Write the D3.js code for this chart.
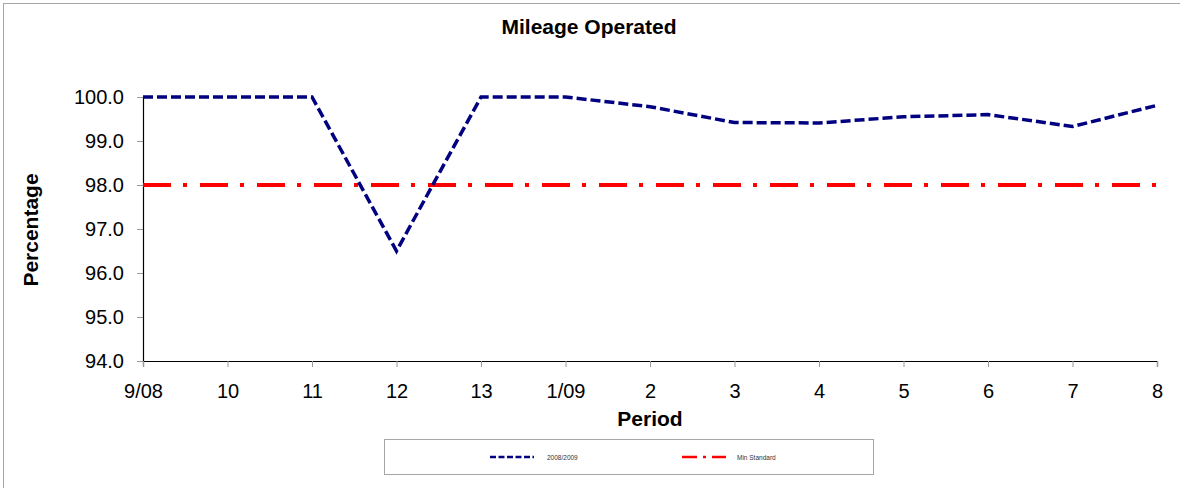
<!DOCTYPE html>
<html lang="en">
<head>
    <meta charset="UTF-8">
    <title>Mileage Operated</title>
    <style>
        body { margin: 0; background: #fff; }
        text { font-family: "Liberation Sans", Arial, sans-serif; }
    </style>
</head>
<body>

    <div id="d3-container"></div>

    <script src="https://d3js.org/d3.v7.min.js"></script>
    <script>
        const periods = ["9/08", "10", "11", "12", "13", "1/09", "2", "3", "4", "5", "6", "7", "8"];
        const mileage = [100, 100, 100, 96.5, 100, 100, 99.78, 99.42, 99.41, 99.55, 99.6, 99.33, 99.81];
        const minStandard = [98, 98, 98, 98, 98, 98, 98, 98, 98, 98, 98, 98, 98];
        const yTicks = [94, 95, 96, 97, 98, 99, 100];
        const seriesNames = ["2008/2009", "Min Standard"];

        const width = 1180;
        const height = 488;
        const margin = { top: 97, bottom: 127, left: 143, right: 23 };

        const svg = d3.select('#d3-container')
            .append('svg')
            .attr('width', width)
            .attr('height', height);

        // outer chart border (runs off the bottom/right of the picture)
        svg.append('rect')
            .attr('x', 3.5).attr('y', 3.5)
            .attr('width', width + 20).attr('height', height + 20)
            .attr('fill', 'none')
            .attr('stroke', '#a6a6a6');

        const x = d3.scalePoint()
            .domain(periods)
            .range([margin.left, width - margin.right]);

        const y = d3.scaleLinear()
            .domain([94, 100])
            .range([height - margin.bottom, margin.top]);

        function yAxis(g) {
            g.attr('transform', `translate(${margin.left},0)`)
                .call(d3.axisLeft(y).tickValues(yTicks).tickFormat(d3.format('.1f')).tickSize(6).tickPadding(13))
                .attr('font-size', '20px')
                .attr('font-family', '"Liberation Sans", Arial, sans-serif');
            g.select('.domain').attr('stroke', '#000').attr('stroke-width', 1.2);
            g.selectAll('.tick line').attr('stroke', '#999');
            g.selectAll('.tick text').attr('fill', '#000');
        }
        function xAxis(g) {
            g.attr('transform', `translate(0,${height - margin.bottom})`)
                .call(d3.axisBottom(x).tickSize(6).tickPadding(17))
                .attr('font-size', '20px')
                .attr('font-family', '"Liberation Sans", Arial, sans-serif');
            g.select('.domain').attr('stroke', '#000').attr('stroke-width', 1.2);
            g.selectAll('.tick line').attr('stroke', '#999');
            g.selectAll('.tick text').attr('fill', '#000');
        }

        svg.append('g').call(yAxis);
        svg.append('g').call(xAxis);

        const line = d3.line()
            .x((d, i) => x(periods[i]))
            .y(d => y(d));

        svg.append('path')
            .datum(minStandard)
            .attr('d', line)
            .attr('fill', 'none')
            .attr('stroke', '#ff0000')
            .attr('stroke-width', 4)
            .attr('stroke-dasharray', '28,12,4,13');

        svg.append('path')
            .datum(mileage)
            .attr('d', line)
            .attr('fill', 'none')
            .attr('stroke', '#000080')
            .attr('stroke-width', 3.5)
            .attr('stroke-dasharray', '10,4');

        // titles
        svg.append('text')
            .attr('x', 589).attr('y', 34)
            .attr('text-anchor', 'middle')
            .attr('font-size', '21px')
            .attr('font-weight', 'bold')
            .text('Mileage Operated');

        svg.append('text')
            .attr('x', (margin.left + width - margin.right) / 2).attr('y', 426)
            .attr('text-anchor', 'middle')
            .attr('font-size', '21px')
            .attr('font-weight', 'bold')
            .text('Period');

        svg.append('text')
            .attr('transform', 'translate(38,230) rotate(-90)')
            .attr('text-anchor', 'middle')
            .attr('font-size', '21px')
            .attr('font-weight', 'bold')
            .text('Percentage');

        // legend
        const legend = svg.append('g');
        legend.append('rect')
            .attr('x', 384.5).attr('y', 439.5)
            .attr('width', 489).attr('height', 35)
            .attr('fill', '#fff')
            .attr('stroke', '#a6a6a6');

        const legendItems = [
            { x: 490, color: '#000080', dash: '6,2.5', w: 2.5, textX: 547 },
            { x: 682, color: '#ff0000', dash: '15,6,3,6', w: 2.5, textX: 737 }
        ];
        legendItems.forEach((item, i) => {
            legend.append('line')
                .attr('x1', item.x).attr('x2', item.x + 44)
                .attr('y1', 457).attr('y2', 457)
                .attr('stroke', item.color)
                .attr('stroke-width', item.w)
                .attr('stroke-dasharray', item.dash);
            legend.append('text')
                .attr('x', item.textX).attr('y', 459.5)
                .attr('font-size', '6.5px')
                .attr('fill', '#333')
                .text(seriesNames[i]);
        });
    </script>

</body>
</html>
